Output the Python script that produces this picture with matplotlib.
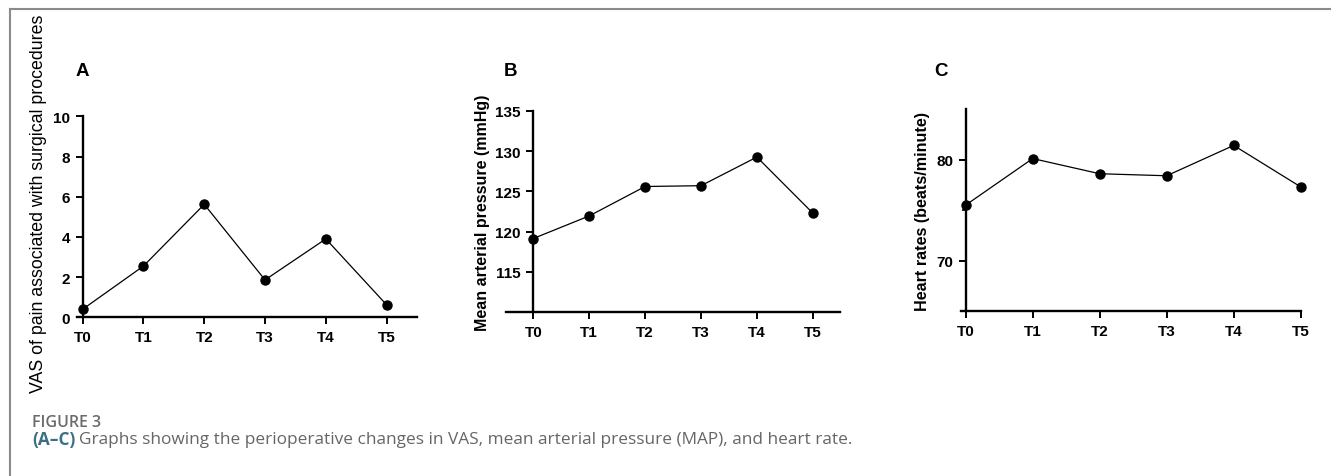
import matplotlib
matplotlib.use("Agg")
import matplotlib.pyplot as plt
from matplotlib.lines import Line2D

# data
times = ['T0', 'T1', 'T2', 'T3', 'T4', 'T5']
vas = [0.4, 2.55, 5.62, 1.86, 3.9, 0.62]
map_vals = [119.15, 121.95, 125.6, 125.7, 129.25, 122.3]
hr = [75.5, 80.1, 78.6, 78.4, 81.4, 77.3]

plt.rcParams['font.family'] = ['Liberation Sans', 'DejaVu Sans']

W, H = 1331, 477
fig = plt.figure(figsize=(W / 100, H / 100), dpi=100)


def make_ax(left, right, top, bottom):
    return fig.add_axes([left / W, 1 - bottom / H, (right - left) / W, (bottom - top) / H])


def panel(ax, vals, xlim, ylim, yticks):
    x = list(range(len(times)))
    ax.plot(x, vals, color='black', lw=0.9, marker='o', ms=6.5, clip_on=False, zorder=3)
    ax.set_xlim(*xlim)
    ax.set_ylim(*ylim)
    ax.spines['top'].set_visible(False)
    ax.spines['right'].set_visible(False)
    ax.spines['left'].set_position(('data', 0))
    ax.spines['left'].set_linewidth(1.7)
    ax.spines['bottom'].set_linewidth(1.7)
    ax.set_xticks(x)
    ax.set_xticklabels(times)
    ax.set_yticks(yticks)
    ax.tick_params(width=1.4, length=5, labelsize=11, pad=4)
    for lab in ax.get_xticklabels() + ax.get_yticklabels():
        lab.set_fontweight('bold')


# panel A
axA = make_ax(76.6, 417, 117.3, 318.3)
panel(axA, vas, (-0.1, 5.5), (0, 10), [0, 2, 4, 6, 8, 10])
fig.text(39 / W, 1 - 204 / H, 'VAS of pain associated with surgical procedures',
         rotation=90, ha='center', va='center', fontsize=12.8)
fig.text(76 / W, 1 - 72 / H, 'A', fontsize=13.5, fontweight='bold', va='center')

# panel B
axB = make_ax(505.9, 840.2, 111.7, 313.3)
panel(axB, map_vals, (-0.49, 5.49), (110, 135), [115, 120, 125, 130, 135])
fig.text(482 / W, 1 - 213 / H, 'Mean arterial pressure (mmHg)',
         rotation=90, ha='center', va='center', fontsize=11.5, fontweight='bold')
fig.text(504 / W, 1 - 72 / H, 'B', fontsize=13.5, fontweight='bold', va='center')

# panel C
axC = make_ax(961, 1300.7, 110, 312.3)
panel(axC, hr, (-0.07, 5.0), (65, 85), [70, 80])
axC.set_yticks([75], minor=True)
axC.tick_params(which='minor', width=1.2, length=3)
fig.text(923 / W, 1 - 212 / H, 'Heart rates (beats/minute)',
         rotation=90, ha='center', va='center', fontsize=11.6, fontweight='bold')
fig.text(934 / W, 1 - 72 / H, 'C', fontsize=13.5, fontweight='bold', va='center')

# frame lines
fig.add_artist(Line2D([10 / W, 1], [1 - 10 / H, 1 - 10 / H], transform=fig.transFigure,
                      color='#8a8a8a', lw=1.5))
fig.add_artist(Line2D([10 / W, 10 / W], [0, 1 - 10 / H], transform=fig.transFigure,
                      color='#8a8a8a', lw=1.5))

# caption
cap_font = ['Open Sans', 'DejaVu Sans']
fig.text(32 / W, 1 - 423 / H, 'FIGURE 3', fontsize=11.5, color='#6b6b6b',
         family=cap_font, fontweight='semibold', va='center')
t1 = fig.text(32 / W, 1 - 440 / H, '(A\u2013C)', fontsize=12.4, color='#3b6f86',
              family=cap_font, fontweight='bold', va='center')
fig.canvas.draw()
bb = t1.get_window_extent(fig.canvas.get_renderer())
fig.text((bb.x1 + 4) / W, 1 - 440 / H,
         'Graphs showing the perioperative changes in VAS, mean arterial pressure (MAP), and heart rate.',
         fontsize=12.4, color='#666666', family=cap_font, va='center')

fig.savefig('out.png', dpi=100)
